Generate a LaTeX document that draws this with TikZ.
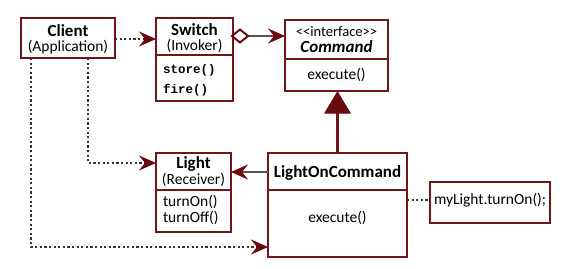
\documentclass[tikz,border=0pt]{standalone}
\usepackage{fontspec}
\setmainfont{Carlito}
\setmonofont{Liberation Mono}
\usetikzlibrary{arrows.meta}
\definecolor{boxred}{HTML}{6E1619}
\definecolor{headred}{HTML}{6A0A0C}
\definecolor{dotgray}{HTML}{333333}
\definecolor{linegray}{HTML}{555555}
\tikzset{
  umlbox/.style={draw=boxred, line width=2.5pt, fill=white, rectangle, inner sep=0pt, outer sep=0pt},
  txt/.style={inner sep=0pt, outer sep=0pt, font=\fontsize{15.5}{15.5}\selectfont},
  ttl/.style={inner sep=0pt, outer sep=0pt, font=\fontsize{17}{17}\selectfont\bfseries},
  mono/.style={inner sep=0pt, outer sep=0pt, anchor=west, font=\fontsize{12.5}{12.5}\selectfont\ttfamily\bfseries},
  dep/.style={draw=dotgray, line width=2.2pt, dash pattern=on 2.2pt off 2.4pt, -{Stealth[length=17pt,width=15pt,inset=6pt,fill=headred,color=headred]}},
  assoc/.style={draw=linegray, line width=2.2pt, -{Stealth[length=17pt,width=15pt,inset=6pt,fill=headred,color=headred]}},
  note/.style={draw=dotgray, line width=2.2pt, dash pattern=on 2.2pt off 2.4pt},
}
\begin{document}
\begin{tikzpicture}[x=1pt,y=-1pt]
\useasboundingbox[fill=white] (0,0) rectangle (569,268);
% Client
\node[umlbox, minimum width=94pt, minimum height=40pt] (client) at (68,38) {};
\node[ttl] (clientT) at (68,30.5) {Client};
\node[txt] (clientS) at (68,47) {(Application)};
% Switch
\node[umlbox, minimum width=77pt, minimum height=37pt] (swT) at (194.5,36.5) {};
\node[umlbox, minimum width=77pt, minimum height=46pt] (swB) at (194.5,78) {};
\node[ttl] (swTitle) at (194.5,29.5) {Switch};
\node[txt] (swSub) at (194.5,46) {(Invoker)};
\node[mono] (store) at (163,70) {store()};
\node[mono] (fire) at (163,90) {fire()};
% Command
\node[umlbox, minimum width=103pt, minimum height=39pt] (cmdT) at (336.5,39.5) {};
\node[umlbox, minimum width=103pt, minimum height=32pt] (cmdB) at (336.5,75) {};
\node[txt, font=\fontsize{14.5}{14.5}\selectfont] (cmdSt) at (336.5,31.5) {<{}<interface>{}>};
\node[ttl, font=\fontsize{17}{17}\selectfont\bfseries\itshape] (cmdTitle) at (336.5,47) {Command};
\node[txt] (cmdExec) at (336.5,75) {execute()};
% Light
\node[umlbox, minimum width=75pt, minimum height=37pt] (lightT) at (193.5,171.5) {};
\node[umlbox, minimum width=75pt, minimum height=42pt] (lightB) at (193.5,211) {};
\node[ttl] (lightTitle) at (193.5,163.5) {Light};
\node[txt] (lightSub) at (193.5,180) {(Receiver)};
\node[txt, anchor=west] (on) at (163,202) {turnOn()};
\node[txt, anchor=west] (off) at (163,218) {turnOff()};
% LightOnCommand
\node[umlbox, minimum width=139pt, minimum height=37pt] (locT) at (337.5,171.5) {};
\node[umlbox, minimum width=139pt, minimum height=67pt] (locB) at (337.5,223.5) {};
\node[ttl] (locTitle) at (337.5,173) {LightOnCommand};
\node[txt] (locExec) at (337.5,218) {execute()};
% note
\node[umlbox, minimum width=120pt, minimum height=41pt] (noteBox) at (490,202.5) {};
\node[txt, anchor=west] (noteTxt) at (434,200) {myLight.turnOn();};
% coordinates
\coordinate (c1) at (31,58);
\coordinate (c1b) at (31,247);
\coordinate (c2) at (88,58);
\coordinate (c2b) at (88,163);
% connectors
\draw[dep] (client.east |- 0,39) -- (swT.west |- 0,39);
\draw[dep] (c2) -- (c2b) -- (lightT.west |- c2b);
\draw[dep] (c1) -- (c1b) -- (locB.west |- c1b);
\draw[assoc] (locT.west |- 0,172) -- (lightT.east |- 0,172);
\draw[note] (locB.east |- 0,200) -- (noteBox.west |- 0,200);
% aggregation
\coordinate (dL) at (232,36);
\draw[assoc] (248,36) -- (cmdT.west |- 0,36);
\draw[draw=headred, line width=2pt, fill=white] (dL) -- ++(8,-6.5) -- ++(8,6.5) -- ++(-8,6.5) -- cycle;
% generalization
\coordinate (gTip) at (337.5,92);
\draw[draw=boxred, line width=2.2pt] (337.5,112) -- (locT.north -| 337.5,0);
\draw[draw=headred, fill=headred, line width=1pt] (gTip) -- (325,113) -- (350,113) -- cycle;
\end{tikzpicture}
\end{document}
